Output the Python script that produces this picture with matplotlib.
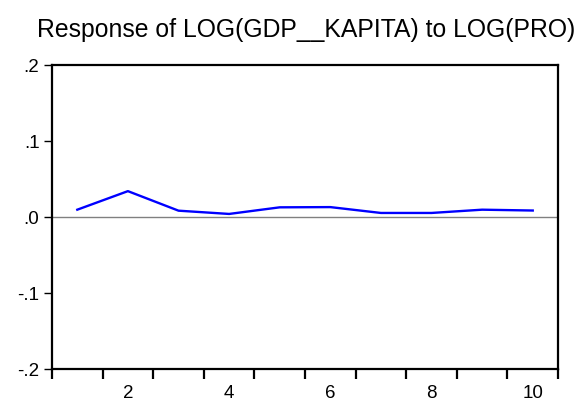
import numpy as np
import matplotlib
matplotlib.use('Agg')
import matplotlib.pyplot as plt

plt.rcParams['font.family'] = ['Liberation Sans', 'DejaVu Sans']

# impulse response periods and values
periods = [1, 2, 3, 4, 5, 6, 7, 8, 9, 10]
response = [0.0096, 0.034, 0.0083, 0.004, 0.0127, 0.013, 0.0053, 0.0053, 0.0096, 0.0085]
y_ticks = [-0.2, -0.1, 0.0, 0.1, 0.2]
y_labels = ['-.2', '-.1', '.0', '.1', '.2']
x_labels = [2, 4, 6, 8, 10]

fig = plt.figure(figsize=(5.79, 4.06), dpi=100)
ax = fig.add_axes([0.0898, 0.0887, 0.874, 0.7488])

ax.axhline(0, color='#808080', lw=1.0, zorder=1)
ax.plot(periods, response, color='#0000ff', lw=1.7, zorder=2)

ax.set_xlim(0.5, 10.5)
ax.set_ylim(-0.2, 0.2)

ax.set_yticks(y_ticks)
ax.set_yticklabels(y_labels, fontsize=13.5)
ax.tick_params(axis='y', direction='out', length=6, width=1.0, pad=3)

# tick marks between periods, labels on even periods
ax.set_xticks(np.arange(0.5, 11, 1.0))
ax.set_xticklabels([])
ax.set_xticks(x_labels, minor=True)
ax.set_xticklabels([str(v) for v in x_labels], minor=True, fontsize=13.5)
ax.tick_params(axis='x', which='major', direction='out', length=7, width=1.6)
ax.tick_params(axis='x', which='minor', length=0, pad=11)

for s in ax.spines.values():
    s.set_linewidth(1.6)
    s.set_color('black')

fig.text(0.064, 0.926, 'Response of LOG(GDP__KAPITA) to LOG(PRO)', fontsize=17.8,
         ha='left', va='center')

fig.savefig('out.png', dpi=100)
